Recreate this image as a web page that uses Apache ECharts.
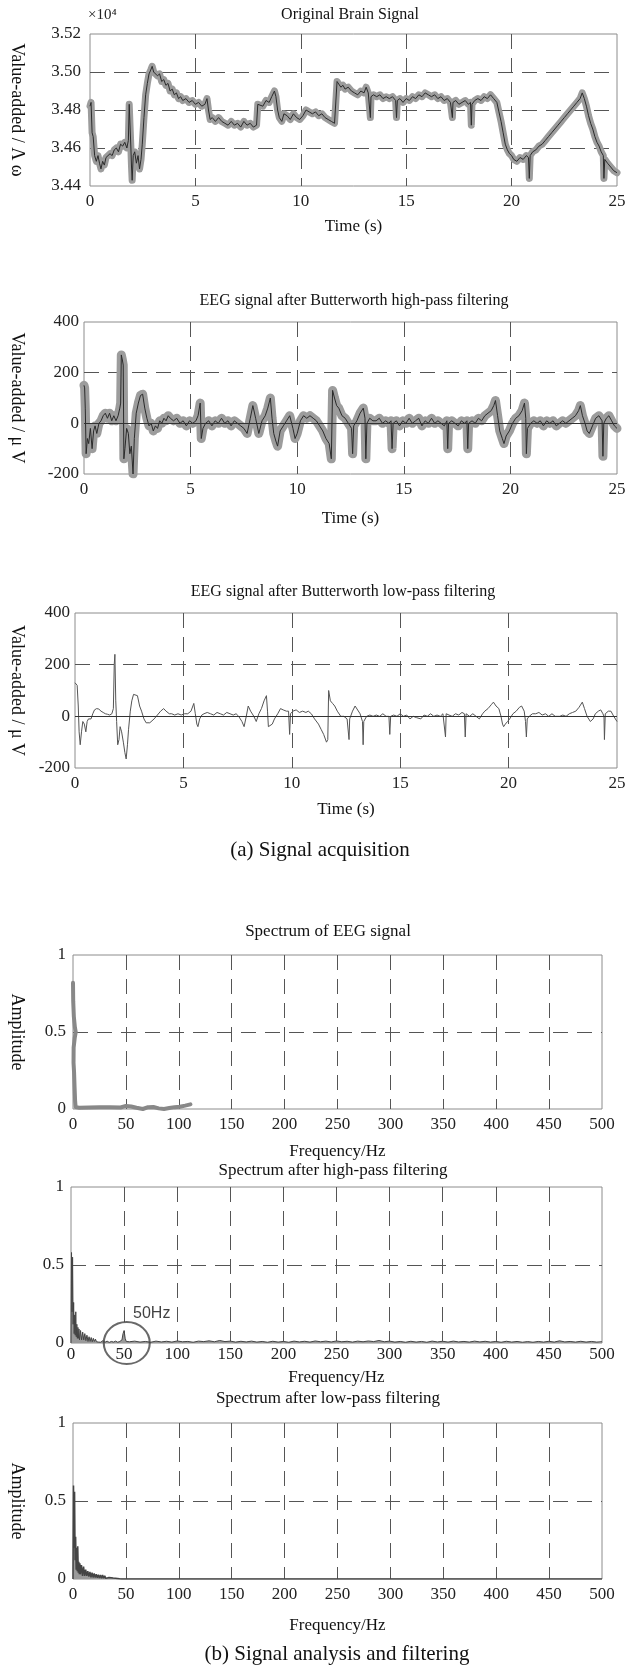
<!DOCTYPE html>
<html><head><meta charset="utf-8">
<script src="https://cdn.jsdelivr.net/npm/echarts@6/dist/echarts.min.js"></script>
<style>html,body{margin:0;padding:0;background:#fff}#c{width:632px;height:1673px}</style>
</head><body><div id="c"></div>
<script>
// ---------- DATA ----------
const timeTicks = [0, 5, 10, 15, 20, 25];
const freqTicks = [0, 50, 100, 150, 200, 250, 300, 350, 400, 450, 500];

// Original brain signal, values in units of 10^4
const rawSignal = [
[0.00,3.4820],[0.05,3.4840],[0.10,3.4680],[0.15,3.4660],[0.22,3.4560],[0.30,3.4530],[0.38,3.4560],[0.45,3.4520],[0.52,3.4490],[0.60,3.4530],
[0.68,3.4510],[0.76,3.4550],[0.85,3.4540],[0.95,3.4570],[1.05,3.4560],[1.15,3.4590],[1.25,3.4600],[1.35,3.4580],[1.45,3.4620],[1.55,3.4610],
[1.65,3.4630],[1.75,3.4600],[1.82,3.4640],[1.86,3.4830],[1.90,3.4840],[1.94,3.4600],[1.97,3.4500],[2.00,3.4430],[2.05,3.4560],[2.12,3.4580],
[2.20,3.4520],[2.28,3.4560],[2.35,3.4490],[2.42,3.4540],[2.48,3.4620],[2.56,3.4760],[2.64,3.4880],[2.72,3.4940],[2.80,3.4990],[2.88,3.5010],
[2.95,3.5030],[3.02,3.5000],[3.10,3.5010],[3.20,3.4980],[3.30,3.4990],[3.40,3.4950],[3.50,3.4960],[3.60,3.4930],[3.70,3.4940],[3.80,3.4900],
[3.90,3.4910],[4.00,3.4880],[4.10,3.4890],[4.20,3.4860],[4.30,3.4870],[4.40,3.4850],[4.55,3.4860],[4.70,3.4840],[4.85,3.4850],[5.00,3.4830],
[5.15,3.4840],[5.30,3.4820],[5.45,3.4830],[5.55,3.4860],[5.62,3.4800],[5.70,3.4750],[5.80,3.4760],[5.95,3.4740],[6.10,3.4760],[6.25,3.4740],
[6.40,3.4730],[6.55,3.4720],[6.70,3.4740],[6.85,3.4720],[7.00,3.4730],[7.15,3.4710],[7.30,3.4740],[7.45,3.4720],[7.60,3.4730],[7.75,3.4710],
[7.90,3.4720],[7.96,3.4830],[8.05,3.4840],[8.20,3.4820],[8.35,3.4850],[8.50,3.4840],[8.62,3.4870],[8.75,3.4900],[8.82,3.4870],[8.90,3.4800],
[8.98,3.4760],[9.10,3.4740],[9.20,3.4780],[9.35,3.4770],[9.50,3.4750],[9.65,3.4780],[9.80,3.4760],[9.95,3.4750],[10.10,3.4770],[10.25,3.4800],
[10.40,3.4790],[10.55,3.4780],[10.70,3.4790],[10.85,3.4770],[11.00,3.4780],[11.15,3.4760],[11.30,3.4750],[11.45,3.4740],[11.60,3.4730],[11.68,3.4720],
[11.72,3.4950],[11.80,3.4940],[11.90,3.4920],[12.00,3.4930],[12.10,3.4910],[12.25,3.4920],[12.40,3.4900],[12.55,3.4890],[12.70,3.4880],[12.85,3.4900],
[13.00,3.4890],[13.10,3.4920],[13.20,3.4890],[13.28,3.4880],[13.30,3.4760],[13.33,3.4870],[13.45,3.4880],[13.60,3.4870],[13.75,3.4880],[13.90,3.4860],
[14.05,3.4870],[14.20,3.4860],[14.35,3.4870],[14.50,3.4850],[14.54,3.4760],[14.58,3.4850],[14.70,3.4860],[14.85,3.4840],[15.00,3.4860],[15.15,3.4850],
[15.30,3.4870],[15.45,3.4860],[15.60,3.4880],[15.75,3.4870],[15.90,3.4890],[16.05,3.4880],[16.20,3.4870],[16.35,3.4880],[16.50,3.4860],[16.65,3.4870],
[16.80,3.4850],[16.95,3.4860],[17.10,3.4840],[17.16,3.4840],[17.19,3.4760],[17.22,3.4840],[17.35,3.4850],[17.50,3.4830],[17.65,3.4840],[17.80,3.4850],
[17.95,3.4830],[18.05,3.4840],[18.09,3.4720],[18.12,3.4830],[18.25,3.4850],[18.40,3.4860],[18.55,3.4850],[18.70,3.4870],[18.85,3.4860],[19.00,3.4880],
[19.15,3.4860],[19.30,3.4840],[19.40,3.4790],[19.50,3.4740],[19.60,3.4680],[19.70,3.4620],[19.80,3.4590],[19.90,3.4570],[20.00,3.4560],[20.10,3.4540],
[20.25,3.4530],[20.40,3.4550],[20.55,3.4540],[20.70,3.4560],[20.80,3.4550],[20.84,3.4440],[20.88,3.4560],[21.00,3.4580],[21.15,3.4590],[21.30,3.4610],
[21.45,3.4620],[21.60,3.4640],[21.75,3.4660],[21.90,3.4680],[22.05,3.4700],[22.20,3.4720],[22.35,3.4740],[22.50,3.4760],[22.65,3.4780],[22.80,3.4800],
[22.95,3.4820],[23.10,3.4840],[23.25,3.4860],[23.35,3.4890],[23.45,3.4860],[23.55,3.4820],[23.65,3.4770],[23.75,3.4730],[23.85,3.4700],[23.95,3.4660],
[24.05,3.4630],[24.15,3.4610],[24.25,3.4580],[24.35,3.4560],[24.38,3.4440],[24.42,3.4540],[24.55,3.4520],[24.70,3.4500],[24.85,3.4480],[25.00,3.4470]
];

// After Butterworth high-pass filtering (µV)
const highPassSignal = [
[0.00,150],[0.03,140],[0.06,60],[0.10,-120],[0.16,-60],[0.22,-80],[0.30,-20],[0.38,-100],[0.45,-30],[0.52,-10],
[0.60,-40],[0.70,0],[0.80,10],[0.90,30],[1.00,40],[1.10,20],[1.20,40],[1.30,10],[1.40,30],[1.50,10],
[1.60,30],[1.68,60],[1.72,80],[1.75,270],[1.80,250],[1.84,230],[1.87,-140],[1.92,-100],[2.00,-20],[2.08,-40],
[2.15,-120],[2.22,-90],[2.30,-200],[2.36,-60],[2.45,40],[2.55,80],[2.65,110],[2.75,115],[2.85,60],[2.95,20],
[3.05,-10],[3.15,0],[3.25,-30],[3.35,-10],[3.45,-20],[3.55,10],[3.65,0],[3.75,20],[3.85,10],[3.95,30],
[4.05,20],[4.20,10],[4.35,20],[4.50,0],[4.65,10],[4.80,-10],[4.95,10],[5.10,0],[5.25,10],[5.35,30],
[5.45,80],[5.50,-60],[5.58,-20],[5.70,0],[5.85,10],[6.00,-10],[6.15,10],[6.30,0],[6.45,20],[6.60,0],
[6.75,10],[6.90,-10],[7.05,10],[7.20,0],[7.35,-10],[7.50,-20],[7.65,-40],[7.80,20],[7.92,70],[8.05,20],
[8.20,-40],[8.35,10],[8.50,30],[8.62,60],[8.74,100],[8.82,20],[8.90,-40],[9.00,-70],[9.08,-90],[9.20,-30],
[9.35,-10],[9.50,10],[9.65,30],[9.80,-20],[9.90,-60],[10.00,-40],[10.15,10],[10.30,30],[10.45,20],[10.60,30],
[10.75,20],[10.90,10],[11.05,-10],[11.20,-30],[11.35,-60],[11.50,-80],[11.60,-140],[11.66,130],[11.75,100],[11.85,70],
[11.95,60],[12.10,30],[12.25,20],[12.40,0],[12.55,-20],[12.60,-120],[12.65,-10],[12.80,10],[12.95,40],[13.10,60],
[13.18,20],[13.22,-140],[13.27,0],[13.40,20],[13.55,10],[13.70,10],[13.85,20],[14.00,0],[14.15,10],[14.30,0],
[14.40,10],[14.45,-100],[14.50,0],[14.65,10],[14.80,-10],[14.95,10],[15.10,0],[15.25,20],[15.40,0],[15.55,10],
[15.70,20],[15.85,-10],[16.00,10],[16.15,0],[16.30,20],[16.45,0],[16.60,10],[16.75,0],[16.90,-10],[17.02,10],
[17.06,-100],[17.10,0],[17.25,10],[17.40,0],[17.55,-10],[17.70,10],[17.85,0],[17.96,10],[18.00,-100],[18.04,0],
[18.20,10],[18.35,0],[18.50,20],[18.65,10],[18.80,30],[18.95,40],[19.10,50],[19.22,70],[19.30,90],[19.40,30],
[19.50,-30],[19.62,-60],[19.70,-80],[19.80,-50],[19.95,-30],[20.10,0],[20.25,20],[20.40,30],[20.55,50],[20.66,80],
[20.72,20],[20.75,-120],[20.80,-20],[20.95,0],[21.10,10],[21.25,0],[21.40,10],[21.55,-10],[21.70,10],[21.85,0],
[22.00,10],[22.15,-10],[22.30,0],[22.45,10],[22.60,0],[22.75,10],[22.90,20],[23.05,30],[23.20,50],[23.28,70],
[23.38,30],[23.50,0],[23.60,-30],[23.70,-40],[23.85,-10],[24.00,20],[24.15,30],[24.30,10],[24.34,-130],[24.38,0],
[24.50,20],[24.62,30],[24.75,10],[24.88,-10],[25.00,-20]
];

// After Butterworth low-pass filtering (µV)
const lowPassSignal = [
[0.00,130],[0.05,125],[0.10,120],[0.15,40],[0.19,-60],[0.24,-110],[0.30,-60],[0.36,-20],[0.43,-30],[0.50,-60],
[0.56,-20],[0.62,-10],[0.74,-10],[0.82,10],[0.90,25],[1.00,30],[1.10,28],[1.20,20],[1.30,15],[1.40,10],
[1.50,8],[1.60,5],[1.70,10],[1.77,30],[1.81,200],[1.84,240],[1.88,60],[1.92,-20],[1.97,-110],[2.03,-90],
[2.08,-40],[2.15,-60],[2.23,-100],[2.30,-140],[2.36,-165],[2.42,-110],[2.47,-50],[2.55,20],[2.62,60],[2.70,85],
[2.78,90],[2.88,80],[2.98,40],[3.07,20],[3.18,-10],[3.28,-25],[3.35,-30],[3.45,-25],[3.53,-20],[3.65,-10],
[3.80,5],[3.95,20],[4.09,30],[4.20,20],[4.35,10],[4.46,10],[4.60,5],[4.75,10],[4.90,5],[5.05,10],
[5.20,10],[5.35,20],[5.48,50],[5.55,10],[5.62,-30],[5.67,-40],[5.75,-10],[5.85,5],[5.95,10],[6.10,15],
[6.25,10],[6.40,5],[6.55,15],[6.70,10],[6.85,5],[7.00,15],[7.15,10],[7.30,5],[7.43,10],[7.55,0],
[7.70,-20],[7.80,-40],[7.90,0],[7.99,40],[8.10,20],[8.25,0],[8.36,-20],[8.48,10],[8.60,30],[8.72,60],
[8.83,80],[8.88,20],[8.92,-40],[9.00,-35],[9.10,-30],[9.20,-10],[9.35,10],[9.48,30],[9.60,25],[9.75,20],
[9.85,20],[9.90,-70],[9.94,10],[10.05,20],[10.20,25],[10.35,15],[10.50,20],[10.65,15],[10.76,20],[10.90,10],
[11.05,-10],[11.23,-30],[11.35,-50],[11.47,-70],[11.60,-100],[11.66,-90],[11.70,100],[11.78,60],[11.88,50],[11.98,40],
[12.10,20],[12.26,0],[12.40,0],[12.55,-10],[12.62,-10],[12.64,-90],[12.67,-10],[12.80,20],[12.92,40],[13.00,35],
[13.15,10],[13.26,-20],[13.29,-110],[13.32,-20],[13.45,0],[13.60,5],[13.75,0],[13.90,5],[14.05,0],[14.20,10],
[14.35,0],[14.48,0],[14.52,-70],[14.56,0],[14.70,5],[14.85,0],[15.00,10],[15.15,0],[15.30,5],[15.45,-10],
[15.60,0],[15.75,-5],[15.95,-10],[16.10,5],[16.25,0],[16.40,10],[16.55,0],[16.70,5],[16.85,0],[16.97,10],
[17.06,10],[17.09,-80],[17.12,10],[17.25,5],[17.40,0],[17.55,10],[17.70,5],[17.85,15],[17.96,10],[18.00,-80],
[18.04,10],[18.20,0],[18.35,10],[18.50,0],[18.65,-10],[18.80,10],[18.90,20],[19.05,30],[19.20,45],[19.30,55],
[19.42,40],[19.55,30],[19.65,0],[19.72,-30],[19.77,-40],[19.85,-30],[19.95,-20],[20.05,-10],[20.20,10],[20.35,20],
[20.50,35],[20.60,40],[20.72,20],[20.78,-20],[20.82,-80],[20.86,-10],[20.95,0],[21.10,10],[21.25,10],[21.40,15],
[21.55,5],[21.70,10],[21.85,0],[22.00,10],[22.15,0],[22.36,0],[22.50,5],[22.65,0],[22.80,10],[22.95,15],
[23.10,20],[23.25,35],[23.40,55],[23.50,30],[23.62,0],[23.77,-20],[23.90,-10],[24.00,10],[24.14,20],[24.25,25],
[24.35,10],[24.40,0],[24.42,-90],[24.46,10],[24.60,20],[24.72,20],[24.85,0],[25.00,-20]
];

// Spectrum of raw EEG signal
const spectrumRaw = [
[0,0.82],[0.2,0.7],[0.8,0.6],[1.8,0.53],[2.6,0.5],[1.6,0.46],[0.6,0.4],[0.5,0.3],[1,0.24],[1.5,0.14],
[2,0.05],[2.5,0.012],[6,0.008],[15,0.01],[25,0.012],[35,0.012],[45,0.01],[50,0.02],[55,0.016],[60,0.008],
[66,0.0],[71,0.012],[76,0.013],[81,0.004],[86,0.0],[91,0.006],[96,0.012],[101,0.015],[106,0.022],[111,0.03]
];

// Spectrum after high-pass filtering
const spectrumHighPass = [
[0,0],[0.5,0.58],[1,0.2],[1.5,0.55],[2,0.12],[2.5,0.26],[3,0.06],[3.5,0.18],[4,0.05],[4.5,0.2],
[5,0.04],[5.5,0.12],[6,0.03],[6.5,0.1],[7,0.03],[7.5,0.09],[8,0.02],[9,0.08],[10,0.02],[11,0.07],
[12,0.02],[13,0.06],[14,0.015],[15,0.05],[16,0.01],[17,0.04],[18,0.01],[19,0.035],[20,0.008],[21,0.03],
[22,0.01],[23,0.025],[24,0.008],[25,0.02],[26,0.006],[27,0.018],[28,0.005],[30,0.015],[32,0.005],[34,0.012],
[36,0.004],[38,0.01],[40,0.006],[42,0.012],[44,0.005],[46,0.01],[48,0.02],[49,0.06],[50,0.08],[51,0.03],
[52,0.01],[55,0.008],[60,0.012],[65,0.006],[70,0.01],[75,0.005],[80,0.012],[85,0.007],[90,0.011],[95,0.006],
[100,0.013],[105,0.008],[110,0.01],[115,0.005],[120,0.012],[125,0.009],[130,0.014],[135,0.008],[140,0.016],[145,0.009],
[150,0.012],[155,0.006],[160,0.011],[165,0.007],[170,0.012],[175,0.006],[180,0.01],[185,0.005],[190,0.011],[195,0.006],
[200,0.01],[205,0.005],[210,0.012],[215,0.007],[220,0.011],[225,0.006],[230,0.013],[235,0.008],[240,0.012],[245,0.007],
[250,0.013],[255,0.008],[260,0.011],[265,0.006],[270,0.012],[275,0.008],[280,0.013],[285,0.009],[290,0.016],[295,0.008],
[300,0.012],[305,0.006],[310,0.01],[315,0.005],[320,0.011],[325,0.006],[330,0.01],[335,0.005],[340,0.012],[345,0.007],
[350,0.011],[355,0.006],[360,0.012],[365,0.007],[370,0.01],[375,0.006],[380,0.012],[385,0.007],[390,0.011],[395,0.006],
[400,0.01],[405,0.005],[410,0.011],[415,0.006],[420,0.01],[425,0.005],[430,0.009],[435,0.005],[440,0.01],[445,0.006],
[450,0.011],[455,0.006],[460,0.014],[465,0.007],[470,0.01],[475,0.006],[480,0.011],[485,0.006],[490,0.01],[495,0.006],
[500,0.008]
];

// Spectrum after low-pass filtering
const spectrumLowPass = [
[0,0],[0.5,0.6],[1,0.2],[1.5,0.56],[2,0.12],[2.5,0.27],[3,0.06],[3.5,0.2],[4,0.05],[4.5,0.21],
[5,0.04],[5.5,0.11],[6,0.03],[6.5,0.1],[7,0.03],[8,0.09],[9,0.02],[10,0.08],[11,0.02],[12,0.06],
[13,0.02],[14,0.05],[15,0.015],[16,0.045],[17,0.01],[18,0.04],[19,0.01],[20,0.035],[21,0.01],[22,0.03],
[23,0.008],[24,0.028],[25,0.006],[26,0.025],[27,0.005],[28,0.025],[29,0.005],[30,0.02],[31,0.004],[32,0.015],
[34,0.01],[36,0.008],[38,0.006],[40,0.005],[42,0.003],[44,0.001],[46,0],[500,0]
];

// Annotation marker for 50 Hz interference
const markerPoint = [[52.5, 0]];

// ---------- CHART ----------
const SERIF = "'Liberation Serif','Times New Roman',serif";
const chart = echarts.init(document.getElementById('c'), null, {renderer: 'canvas'});

const grids = [
  {left: 88, right: 15, top: 34, height: 152},
  {left: 81, right: 15, top: 322, height: 152},
  {left: 72, right: 15, top: 613, height: 155},
  {left: 72, right: 30, top: 955, height: 154},
  {left: 71, right: 30, top: 1187, height: 156},
  {left: 72, right: 30, top: 1423, height: 156}
].map(g => Object.assign(g, {show: true, borderColor: '#8c8c8c', borderWidth: 1, backgroundColor: 'transparent'}));

const dash = {color: '#555', width: 1, type: [15, 9]};
function xAx(i, min, max, interval, name, gap, margin) {
  return {
    gridIndex: i, type: 'value', min, max, interval,
    name, nameLocation: 'middle', nameGap: gap,
    nameTextStyle: {fontFamily: SERIF, fontSize: 17, color: '#111'},
    axisLine: {show: false}, axisTick: {show: false},
    axisLabel: {fontFamily: SERIF, fontSize: 17, color: '#222', margin: margin},
    splitLine: {show: true, showMinLine: false, showMaxLine: false, lineStyle: dash}
  };
}
function yAx(i, min, max, interval, name, gap, fmt, margin) {
  return {
    gridIndex: i, type: 'value', min, max, interval,
    name, nameLocation: 'middle', nameGap: gap, nameRotate: -90,
    nameTextStyle: {fontFamily: SERIF, fontSize: 18, color: '#111'},
    axisLine: {show: false}, axisTick: {show: false},
    axisLabel: {fontFamily: SERIF, fontSize: 17, color: '#222', margin: margin, formatter: fmt},
    splitLine: {show: true, showMinLine: false, showMaxLine: false, lineStyle: dash}
  };
}
const specFmt = v => (v === 0 ? '0' : v === 1 ? '1' : String(v));

const titleStyle = {fontFamily: SERIF, fontSize: 16, fontWeight: 'normal', color: '#111'};
function ttl(text, cx, cy, size) {
  return {text, left: cx, top: cy - (size || 16) * 0.6, textAlign: 'center', padding: 0,
    textStyle: Object.assign({}, titleStyle, size ? {fontSize: size} : {})};
}

const zeroLine = {silent: true, symbol: 'none', label: {show: false},
  lineStyle: {color: '#333', width: 1, type: 'solid'}, data: [{yAxis: 0}]};

const BAND_GRAY = '#9c9c9c';

const option = {
  animation: false,
  backgroundColor: '#fff',
  title: [
    ttl('Original Brain Signal', 350, 16),
    ttl('EEG signal after Butterworth high-pass filtering', 354, 302),
    ttl('EEG signal after Butterworth low-pass filtering', 343, 593),
    ttl('Spectrum of EEG signal', 328, 933, 17),
    ttl('Spectrum after high-pass filtering', 333, 1172, 17),
    ttl('Spectrum after low-pass filtering', 328, 1400, 17),
    ttl('(a) Signal acquisition', 320, 853, 21),
    ttl('(b) Signal analysis and filtering', 337, 1657, 21)
  ],
  graphic: [
    {type: 'text', left: 88, top: 8, style: {text: '×10⁴', font: "15px 'Liberation Serif', serif", fill: '#222'}}
  ],
  grid: grids,
  xAxis: [
    xAx(0, 0, 25, 5, 'Time (s)', 32, 7),
    xAx(1, 0, 25, 5, 'Time (s)', 36, 7),
    xAx(2, 0, 25, 5, 'Time (s)', 33, 7),
    xAx(3, 0, 500, 50, 'Frequency/Hz', 34, 7),
    xAx(4, 0, 500, 50, 'Frequency/Hz', 26, 3),
    xAx(5, 0, 500, 50, 'Frequency/Hz', 38, 7)
  ],
  yAxis: [
    yAx(0, 3.44, 3.52, 0.02, 'Value-added / Λ ω', 64, v => v.toFixed(2), 9),
    yAx(1, -200, 400, 200, 'Value-added / μ V', 58, null, 5),
    yAx(2, -200, 400, 200, 'Value-added / μ V', 49, null, 5),
    yAx(3, 0, 1, 0.5, 'Amplitude', 47, specFmt, 7),
    yAx(4, 0, 1, 0.5, '', 40, specFmt, 7),
    yAx(5, 0, 1, 0.5, 'Amplitude', 47, specFmt, 7)
  ],
  series: [
    {type: 'line', xAxisIndex: 0, yAxisIndex: 0, data: rawSignal, showSymbol: false, silent: true,
      lineStyle: {color: BAND_GRAY, width: 7, join: 'round', cap: 'round'}, z: 2},
    {type: 'line', xAxisIndex: 0, yAxisIndex: 0, data: rawSignal, showSymbol: false, lineStyle: {color: '#2a2a2a', width: 1}, z: 3},
    {type: 'line', xAxisIndex: 1, yAxisIndex: 1, data: highPassSignal, showSymbol: false, silent: true,
      lineStyle: {color: BAND_GRAY, width: 9, join: 'round', cap: 'round'}, z: 2, markLine: zeroLine},
    {type: 'line', xAxisIndex: 1, yAxisIndex: 1, data: highPassSignal, showSymbol: false, lineStyle: {color: '#2a2a2a', width: 1}, z: 3},
    {type: 'line', xAxisIndex: 2, yAxisIndex: 2, data: lowPassSignal, showSymbol: false, lineStyle: {color: '#555', width: 1}, z: 3, markLine: zeroLine},
    {type: 'line', xAxisIndex: 3, yAxisIndex: 3, data: spectrumRaw, showSymbol: false, lineStyle: {color: '#888', width: 4, cap: 'round', join: 'round'}, z: 3},
    {type: 'line', xAxisIndex: 4, yAxisIndex: 4, data: spectrumHighPass, showSymbol: false, lineStyle: {color: '#444', width: 1}, areaStyle: {color: '#9a9a9a', opacity: 1}, z: 3},
    {type: 'line', xAxisIndex: 5, yAxisIndex: 5, data: spectrumLowPass, showSymbol: false, lineStyle: {color: '#444', width: 1.5}, areaStyle: {color: '#9a9a9a', opacity: 1}, z: 3},
    {type: 'scatter', xAxisIndex: 4, yAxisIndex: 4, data: markerPoint, symbol: 'circle', symbolSize: [46, 42], clip: false, silent: true, z: 5,
      itemStyle: {color: 'rgba(0,0,0,0)', borderColor: '#444', borderWidth: 2},
      label: {show: true, formatter: '50Hz', position: [49, -7], align: 'center', verticalAlign: 'middle',
        fontFamily: "'Liberation Sans', Arial, sans-serif", fontSize: 16, color: '#111'}}
  ]
};
chart.setOption(option);
</script>
</body></html>
